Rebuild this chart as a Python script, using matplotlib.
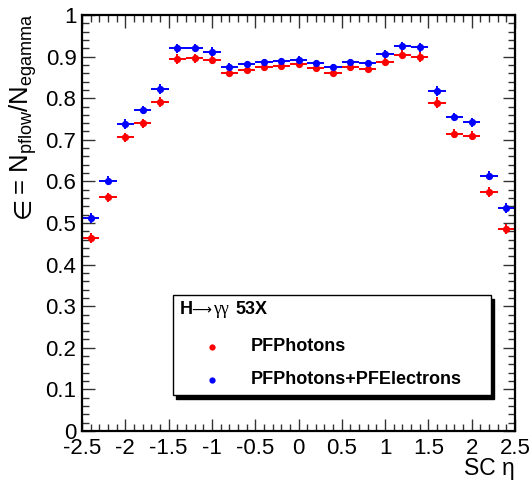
#!/usr/bin/env python3
import numpy as np
import matplotlib
matplotlib.use('Agg')
import matplotlib.pyplot as plt
from matplotlib.patches import Rectangle
from matplotlib.ticker import MultipleLocator

plt.rcParams['font.family'] = ['Liberation Sans', 'DejaVu Sans']
plt.rcParams['mathtext.fontset'] = 'custom'
plt.rcParams['mathtext.rm'] = 'Liberation Sans'
plt.rcParams['mathtext.it'] = 'Liberation Sans:italic'
plt.rcParams['mathtext.bf'] = 'Liberation Sans:bold'

# SC eta bin centres (bins of 0.2 from -2.5 to 2.5)
eta = [-2.4, -2.2, -2.0, -1.8, -1.6, -1.4, -1.2, -1.0, -0.8, -0.6, -0.4, -0.2, 0.0,
       0.2, 0.4, 0.6, 0.8, 1.0, 1.2, 1.4, 1.6, 1.8, 2.0, 2.2, 2.4]
eta_err = [0.1] * 25

# efficiency, PF photons only
eff_pho = [0.465, 0.562, 0.706, 0.740, 0.790, 0.894, 0.896, 0.892, 0.860, 0.868,
           0.874, 0.878, 0.882, 0.873, 0.861, 0.874, 0.870, 0.888, 0.905, 0.898,
           0.789, 0.715, 0.710, 0.574, 0.485]
err_pho = [0.012, 0.011, 0.011, 0.011, 0.012, 0.012, 0.011, 0.010, 0.008, 0.008,
           0.008, 0.008, 0.008, 0.008, 0.008, 0.008, 0.008, 0.010, 0.011, 0.012,
           0.013, 0.011, 0.011, 0.012, 0.012]

# efficiency, PF photons + PF electrons
eff_all = [0.512, 0.602, 0.738, 0.772, 0.821, 0.920, 0.921, 0.912, 0.876, 0.882,
           0.887, 0.889, 0.893, 0.884, 0.874, 0.886, 0.885, 0.906, 0.926, 0.922,
           0.818, 0.754, 0.742, 0.614, 0.537]
err_all = [0.011, 0.010, 0.011, 0.010, 0.012, 0.011, 0.010, 0.010, 0.008, 0.008,
           0.008, 0.008, 0.008, 0.008, 0.008, 0.008, 0.008, 0.009, 0.010, 0.011,
           0.012, 0.010, 0.011, 0.011, 0.012]

W, H = 532, 488
fig = plt.figure(figsize=(W / 100, H / 100), dpi=100)
ax = fig.add_axes([82 / W, 1 - 431 / H, (515 - 82) / W, (431 - 15) / H])

for y, yerr, col in [(eff_pho, err_pho, '#ff0000'), (eff_all, err_all, '#0000ff')]:
    ax.errorbar(eta, y, xerr=eta_err, yerr=yerr, fmt='o', color=col, ms=5.2,
                elinewidth=1.4, capsize=0, mew=0)

ax.set_xlim(-2.5, 2.5)
ax.set_ylim(0, 1)
ax.xaxis.set_minor_locator(MultipleLocator(0.1))
ax.yaxis.set_minor_locator(MultipleLocator(0.02))
ax.set_xticks(np.arange(-2.5, 2.51, 0.5))
ax.set_xticklabels(['-2.5', '-2', '-1.5', '-1', '-0.5', '0', '0.5', '1', '1.5', '2', '2.5'])
ax.set_yticks(np.arange(0, 1.01, 0.1))
ax.set_yticklabels(['0', '0.1', '0.2', '0.3', '0.4', '0.5', '0.6', '0.7', '0.8', '0.9', '1'])
ax.tick_params(which='both', direction='in', top=True, right=True, labelsize=16,
               width=1.0, color='#333333')
ax.tick_params(which='major', length=9)
ax.tick_params(which='minor', length=5)
ax.tick_params(axis='x', pad=5)
ax.tick_params(axis='y', pad=4)
for s in ax.spines.values():
    s.set_linewidth(1.6)

fig.text(515 / W, 1 - 469 / H, 'SC η', ha='right', va='center', fontsize=16.5)
# y title: the element sign comes from DejaVu, the rest from Liberation Sans
fig.text(23 / W, 1 - 13 / H, '= N$_{\\rm pflow}$/N$_{\\rm egamma}$', rotation=90,
         ha='center', va='top', fontsize=18.5)
fig.text(23 / W, 1 - 218 / H, '∈', rotation=90, ha='center', va='bottom',
         fontsize=17.5, family='DejaVu Sans')

# legend box drawn ROOT-style with a shadow
tf = fig.transFigure
fig.patches.append(Rectangle((176 / W, 1 - 399 / H), (318 / W), (100 / H), transform=tf,
                             facecolor='black', edgecolor='black', zorder=5))
fig.patches.append(Rectangle((172.5 / W, 1 - 395 / H), (318 / W), (100 / H), transform=tf,
                             facecolor='white', edgecolor='black', lw=1.0, zorder=6))
hy = 1 - 310 / H
fig.text(180 / W, hy, 'H', fontsize=13, fontweight='bold', va='center', zorder=7)
fig.text(191.5 / W, hy, '⟶', fontsize=10, family='DejaVu Sans', va='center', zorder=7)
fig.text(213 / W, hy, 'γγ', fontsize=13, family='Liberation Serif', va='center', zorder=7)
fig.text(235 / W, hy, '53X', fontsize=13, fontweight='bold', va='center', zorder=7)
labels = ['PFPhotons', 'PFPhotons+PFElectrons']
for i, (lab, col) in enumerate(zip(labels, ['#ff0000', '#0000ff'])):
    yy = 1 - (346.5 + 33.5 * i) / H
    fig.lines.append(plt.Line2D([211.5 / W], [yy], transform=tf, marker='o', ms=4.5,
                                color=col, mew=0, zorder=7))
    fig.text(251 / W, yy, lab, fontsize=13, fontweight='bold', va='center', zorder=7)

fig.savefig('out.png', dpi=100)
